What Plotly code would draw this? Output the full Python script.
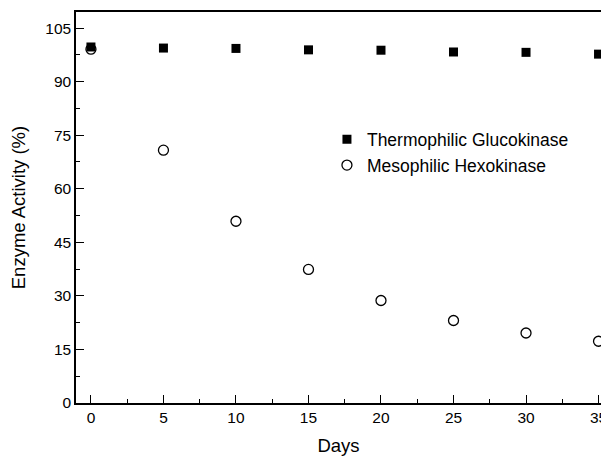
import plotly.graph_objects as go

days = [0, 5, 10, 15, 20, 25, 30, 35]
thermo = [99.7, 99.4, 99.3, 98.9, 98.8, 98.3, 98.2, 97.7]
meso = [99.1, 70.8, 50.9, 37.4, 28.7, 23.1, 19.6, 17.3]
y_ticks = [0, 15, 30, 45, 60, 75, 90, 105]
x_ticks = [0, 5, 10, 15, 20, 25, 30, 35]

fig = go.Figure()
fig.add_trace(go.Scatter(x=days, y=thermo, mode="markers", name="Thermophilic Glucokinase",
                         marker=dict(symbol="square", size=9, color="black"), cliponaxis=False))
fig.add_trace(go.Scatter(x=days, y=meso, mode="markers", name="Mesophilic Hexokinase",
                         marker=dict(symbol="circle-open", size=10, color="black", line=dict(width=1.3)),
                         cliponaxis=False))

font = "Liberation Sans, Arial, sans-serif"
fig.update_layout(
    width=601, height=456,
    margin=dict(l=76, r=0, t=12, b=53),
    plot_bgcolor="white", paper_bgcolor="white",
    font=dict(family=font, size=15, color="black"),
    legend=dict(x=0.478, y=0.72, xanchor="left", yanchor="top", bgcolor="rgba(0,0,0,0)",
                font=dict(size=17.5), itemwidth=30, tracegroupgap=0),
    showlegend=True,
)
fig.update_xaxes(
    range=[-1.03, 35.17], tickvals=x_ticks, ticktext=[str(v) for v in x_ticks],
    automargin=False, ticklabeloverflow="allow",
    showgrid=False, zeroline=False, showline=True, linecolor="black", linewidth=1.5,
    mirror=True, ticks="inside", ticklen=8, tickwidth=1.2, tickcolor="black",
    minor=dict(ticks="inside", ticklen=4, tickwidth=1.2, dtick=2.5, tick0=0, tickcolor="black", showgrid=False),
    title=dict(text="Days", font=dict(size=18.5)),
    tickfont=dict(size=15.5),
)
fig.update_yaxes(
    range=[0, 109.5], tickvals=y_ticks, ticktext=[str(v) for v in y_ticks],
    automargin=False,
    showgrid=False, zeroline=False, showline=True, linecolor="black", linewidth=1.5,
    mirror=False, ticks="inside", ticklen=8, tickwidth=1.2, tickcolor="black",
    minor=dict(ticks="inside", ticklen=4, tickwidth=1.2, dtick=7.5, tick0=0, tickcolor="black", showgrid=False),
    title=dict(text="Enzyme Activity (%)", font=dict(size=18.5)),
    tickfont=dict(size=15.5),
)

fig.write_html(
    "out.html", config={"displayModeBar": False},
    post_script=("document.body.style.margin='0';document.body.style.overflow='hidden';"
                 "document.documentElement.style.overflow='hidden';"),
)
